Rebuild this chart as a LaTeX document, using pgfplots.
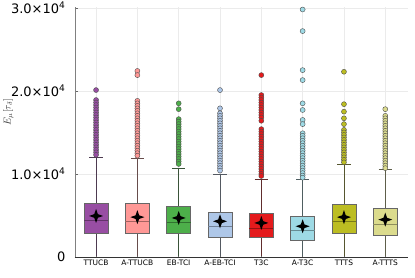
\documentclass[border=0pt]{standalone}
\usepackage{fontspec}
\setmainfont{DejaVu Sans}
\usepackage{pgfplots}
\pgfplotsset{compat=1.18}
\definecolor{c1}{HTML}{984EA3}
\definecolor{c2}{HTML}{FF9896}
\definecolor{c3}{HTML}{4DAF4A}
\definecolor{c4}{HTML}{AEC7E8}
\definecolor{c5}{HTML}{E41A1C}
\definecolor{c6}{HTML}{9EDAE5}
\definecolor{c7}{HTML}{BCBD22}
\definecolor{c8}{HTML}{DBDB8D}
\pgfdeclareplotmark{star4}{%
 \pgfpathmoveto{\pgfqpoint{0pt}{\pgfplotmarksize}}%
 \pgfpathlineto{\pgfqpoint{0.26\pgfplotmarksize}{0.26\pgfplotmarksize}}%
 \pgfpathlineto{\pgfqpoint{\pgfplotmarksize}{0pt}}%
 \pgfpathlineto{\pgfqpoint{0.26\pgfplotmarksize}{-0.26\pgfplotmarksize}}%
 \pgfpathlineto{\pgfqpoint{0pt}{-\pgfplotmarksize}}%
 \pgfpathlineto{\pgfqpoint{-0.26\pgfplotmarksize}{-0.26\pgfplotmarksize}}%
 \pgfpathlineto{\pgfqpoint{-\pgfplotmarksize}{0pt}}%
 \pgfpathlineto{\pgfqpoint{-0.26\pgfplotmarksize}{0.26\pgfplotmarksize}}%
 \pgfpathclose\pgfusepathqfill}
% box: position, lower quartile, median, upper quartile, upper whisker, colour
\newcommand\bx[6]{%
 \pgfmathsetmacro\bxl{#1-0.29}\pgfmathsetmacro\bxr{#1+0.29}%
 \pgfmathsetmacro\capl{#1-0.16}\pgfmathsetmacro\capr{#1+0.16}%
 \edef\tmp{%
  \noexpand\addplot[draw=#6!30!black!85, line width=0.7pt] coordinates {(#1,150)(#1,#2)};
  \noexpand\addplot[draw=#6!30!black!85, line width=0.7pt] coordinates {(#1,#4)(#1,#5)};
  \noexpand\addplot[draw=#6!30!black!85, line width=0.7pt] coordinates {(\capl,#5)(\capr,#5)};
  \noexpand\addplot[fill=#6, draw=black!60, line width=0.8pt] coordinates {(\bxl,#2)(\bxr,#2)(\bxr,#4)(\bxl,#4)} --cycle;
  \noexpand\addplot[draw=#6!65!black, line width=0.8pt] coordinates {(\bxl,#3)(\bxr,#3)};
 }\tmp}
\pgfplotsset{
  outl/.style={only marks, mark=*, mark size=2.5pt, mark options={fill=#1, draw=black!70, line width=0.4pt}}
}
\begin{document}
\begin{tikzpicture}
\begin{axis}[
  scale only axis, width=333pt, height=250pt,
  xmin=0.49, xmax=8.55, ymin=0, ymax=30100,
  axis x line*=bottom, axis y line*=left,
  axis line style={line width=0.7pt},
  y axis line style={draw=black!50},
  x axis line style={draw=black!80},
  xtick={1,...,8},
  xticklabels={TTUCB,A-TTUCB,EB-TCI,A-EB-TCI,T3C,A-T3C,TTTS,A-TTTS},
  x tick label style={font=\fontsize{7.5}{8}\selectfont, yshift=1pt},
  ytick={0,10000,20000,30000},
  yticklabels={\raisebox{-8pt}{0},1.0×10\textsuperscript{4},2.0×10\textsuperscript{4},3.0×10\textsuperscript{4}},
  y tick label style={font=\fontsize{13}{14}\selectfont, xshift=-6pt},
  scaled y ticks=false,
  tick align=inside, major tick length=3pt,
  tick style={black!60, line width=0.5pt},
  xmajorgrids, ymajorgrids,
  grid style={black!8, line width=0.5pt},
  ylabel={\color{black!80}$E_\mu[\tau_\delta]$},
  ylabel style={font=\fontsize{10}{11}\selectfont, at={(axis description cs:-0.2,0.58)}, anchor=center},
  clip=false,
]
\bx{1}{2900}{4460}{6500}{12050}{c1}
\bx{2}{2800}{4340}{6400}{11900}{c2}
\bx{3}{2900}{4200}{6100}{10700}{c3}
\bx{4}{2400}{3700}{5400}{10000}{c4}
\bx{5}{2300}{3500}{5200}{9400}{c5}
\bx{6}{2000}{3250}{4900}{9300}{c6}
\bx{7}{2900}{4300}{6300}{11100}{c7}
\bx{8}{2650}{3950}{5800}{10600}{c8}
\addplot[outl=c1] coordinates {(1,20100)(1,18900)(1,18600)(1,18300)(1,18000)(1,17700)(1,17400)(1,17100)(1,16800)(1,16500)(1,16200)(1,15900)(1,15600)(1,15300)(1,15000)(1,14700)(1,14400)(1,14100)(1,13800)(1,13500)(1,13200)(1,12900)(1,12600)(1,12300)};
\addplot[outl=c2] coordinates {(2,22400)(2,21900)(2,18800)(2,18500)(2,18200)(2,17900)(2,17600)(2,17300)(2,17000)(2,16700)(2,16400)(2,16100)(2,15800)(2,15500)(2,15200)(2,14900)(2,14600)(2,14300)(2,14000)(2,13700)(2,13400)(2,13100)(2,12800)(2,12500)(2,12200)};
\addplot[outl=c3] coordinates {(3,18500)(3,17800)(3,16600)(3,16300)(3,16000)(3,15700)(3,15400)(3,15100)(3,14800)(3,14500)(3,14200)(3,13900)(3,13600)(3,13300)(3,13000)(3,12700)(3,12400)(3,12100)(3,11800)(3,11500)(3,11200)};
\addplot[outl=c4] coordinates {(4,20100)(4,17900)(4,17300)(4,17000)(4,16700)(4,16400)(4,16100)(4,15800)(4,15500)(4,15200)(4,14900)(4,14600)(4,14300)(4,14000)(4,13700)(4,13400)(4,13100)(4,12800)(4,12500)(4,12200)(4,11900)(4,11600)(4,11300)(4,11000)(4,10700)(4,10400)};
\addplot[outl=c5] coordinates {(5,21900)(5,19500)(5,19200)(5,18900)(5,18600)(5,18300)(5,18000)(5,17700)(5,17400)(5,17100)(5,16800)(5,16400)(5,15400)(5,15100)(5,14800)(5,14500)(5,14200)(5,13900)(5,13600)(5,13300)(5,13000)(5,12700)(5,12400)(5,12100)(5,11800)(5,11500)(5,11200)(5,10900)(5,10600)(5,10300)(5,10000)(5,9750)};
\addplot[outl=c6] coordinates {(6,29800)(6,27200)(6,22500)(6,21300)(6,18500)(6,17700)(6,16500)(6,16000)(6,14900)(6,14600)(6,14300)(6,14000)(6,13700)(6,13400)(6,13100)(6,12800)(6,12500)(6,12200)(6,11900)(6,11600)(6,11300)(6,11000)(6,10700)(6,10400)(6,10100)(6,9800)(6,9550)};
\addplot[outl=c7] coordinates {(7,22300)(7,18400)(7,17500)(7,16700)(7,16000)(7,15300)(7,15000)(7,14700)(7,14400)(7,14100)(7,13800)(7,13500)(7,13200)(7,12900)(7,12600)(7,12300)(7,12000)(7,11700)(7,11400)};
\addplot[outl=c8] coordinates {(8,17800)(8,17000)(8,16700)(8,16400)(8,16100)(8,15800)(8,15500)(8,15200)(8,14900)(8,14600)(8,14300)(8,14000)(8,13700)(8,13400)(8,13100)(8,12800)(8,12500)(8,12200)(8,11900)(8,11600)(8,11300)(8,11000)(8,10700)};
\addplot[only marks, mark=star4, mark size=7pt, color=black, fill=black] coordinates {(1,4940)(2,4800)(3,4700)(4,4300)(5,4100)(6,3700)(7,4800)(8,4500)};
\coordinate (sw) at (rel axis cs:0,0);
\coordinate (ne) at (rel axis cs:1,1);
\end{axis}
\pgfresetboundingbox
\path[use as bounding box] ([shift={(-75pt,-21pt)}]sw) rectangle ([shift={(7pt,7pt)}]ne);
\end{tikzpicture}
\end{document}
